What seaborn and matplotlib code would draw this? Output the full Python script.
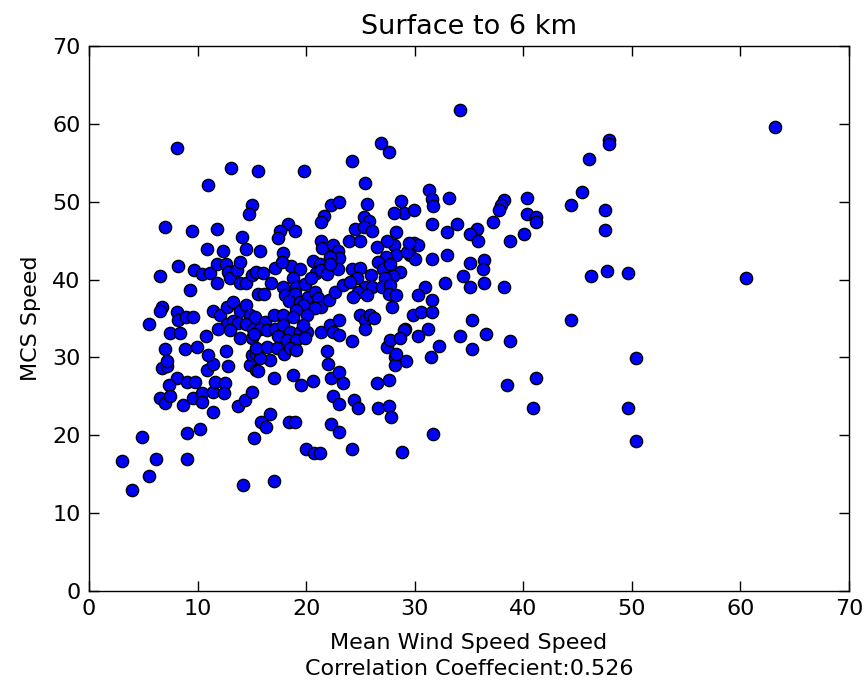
import matplotlib
matplotlib.use("Agg")
import matplotlib.pyplot as plt
import seaborn as sns
import pandas as pd

# Mean wind speed (surface to 6 km) for each MCS case
wind_speed = [
    3.0, 4.0, 4.85, 5.55, 6.2, 9.05, 9.0, 10.2, 14.15, 11.45,
    6.7, 7.2, 8.1, 9.05, 9.8, 7.4, 6.5, 7.0, 7.5, 8.7,
    9.55, 10.4, 10.4, 11.45, 11.6, 12.5, 12.4, 10.9, 11.45, 11.0,
    12.8, 14.8, 15.4, 15.0, 13.75, 14.4, 15.0, 15.8, 15.2, 16.7,
    15.6, 17.0, 18.8, 19.5, 20.6, 22.0, 22.3, 23.0, 23.4, 22.5,
    23.0, 24.4, 24.8, 26.5, 27.6, 26.6, 27.6, 27.8, 28.2, 29.2,
    28.2, 16.7, 16.3, 18.4, 19.0, 22.3, 23.0, 20.0, 20.7, 21.3,
    24.2, 28.8, 17.0, 31.5, 38.5, 41.2, 40.9, 31.7,
    63.2, 47.9, 47.9, 46.05, 45.4, 44.4, 47.5, 47.5, 46.2, 47.7,
    49.6, 60.5, 44.4, 50.4, 49.6, 50.4,
    34.2, 31.3, 31.6, 31.7, 33.2, 28.7, 29.0, 29.9, 31.6, 33.9,
    33.0, 35.7, 35.1, 37.2, 38.2, 37.9, 37.8, 40.3, 40.3, 41.2,
    41.2, 40.1, 35.8, 38.8, 29.9, 30.3, 29.6, 30.0, 31.6, 33.0,
    35.1, 36.4, 36.3, 36.4, 34.4, 35.1, 38.2, 32.8, 28.6, 30.9,
    30.3, 31.6, 29.8, 30.6, 31.6, 35.3, 29.1, 31.2, 30.3, 34.2,
    36.6, 38.8, 35.3, 32.2,
    26.9, 27.6, 24.2, 15.6, 19.8, 25.4, 22.3, 23.0, 25.6, 21.6,
    21.4, 18.3, 17.6, 19.0, 25.3, 25.8, 28.1, 28.3,
    8.1, 13.05, 11.0, 15.0, 14.7, 7.0, 9.46, 11.76, 14.1,
    14.5, 10.9, 12.3, 8.2, 6.5, 9.67, 10.4, 11.1, 11.8, 11.8,
    12.6, 12.8, 13.0, 13.6, 13.9, 13.9, 14.5, 15.0, 15.4, 9.3,
    15.6, 6.7, 6.5, 5.55, 8.1, 8.2, 8.9, 9.55, 7.5, 8.4,
    10.8, 7.0, 8.85, 9.9, 12.6, 11.45, 12.07, 12.7, 13.3, 13.9,
    14.5, 14.8, 12.7, 13.3, 13.75, 14.5, 15.1, 11.9, 13.0, 15.3,
    13.9, 15.0, 15.4, 7.2, 15.75,
    17.4, 24.5, 25.3, 26.1, 28.1, 27.4, 26.5, 28.3, 27.35, 26.6,
    23.9, 25.0, 21.4, 21.5, 22.5, 22.9, 23.0, 22.2, 15.75, 17.9,
    17.1, 18.6, 19.4, 17.8, 20.6, 21.3, 20.9, 21.4, 16.0, 16.8,
    16.1, 17.9, 18.8, 19.1, 19.9, 20.4, 18.05, 19.0, 18.4, 19.4,
    20.2, 19.7, 20.8, 21.1, 21.4, 22.1, 20.8, 20.1, 19.1, 22.7,
    23.4, 22.9, 21.9, 22.2, 24.2, 25.0, 24.7, 24.0, 26.0, 25.4,
    24.8, 24.3, 26.1, 25.6, 27.1, 27.7, 28.0, 27.3, 27.0, 27.7,
    27.6, 28.3, 27.9, 29.3, 29.5,
    16.2, 15.75, 15.2, 16.4, 17.0, 17.9, 18.8, 17.1, 17.9, 18.5,
    19.4, 20.05, 19.7, 17.4, 18.2, 19.1, 19.9, 21.4, 22.2, 23.0,
    22.5, 23.0, 25.0, 25.4, 25.9, 25.4, 26.25, 24.2, 15.4, 16.4,
    17.3, 18.0, 18.5, 19.1, 21.9, 27.4, 27.7, 28.3, 29.0, 28.6,
]

# MCS propagation speed for the same cases
mcs_speed = [
    16.7, 13.0, 19.8, 14.8, 17.0, 17.0, 20.3, 20.8, 13.6, 23.0,
    28.6, 28.9, 27.4, 26.8, 26.8, 26.4, 24.8, 24.1, 25.0, 23.9,
    24.8, 25.4, 24.3, 25.6, 26.9, 26.7, 25.4, 28.4, 29.2, 30.3,
    28.9, 29.0, 28.4, 30.3, 23.7, 24.5, 25.5, 21.7, 19.6, 29.7,
    28.3, 27.4, 27.7, 26.4, 27.0, 29.2, 27.3, 28.1, 26.7, 25.1,
    24.0, 24.5, 23.5, 26.7, 27.1, 23.5, 23.7, 22.3, 30.0, 29.5,
    29.0, 22.7, 21.0, 21.7, 21.7, 21.4, 20.4, 18.3, 17.7, 17.7,
    18.2, 17.9, 14.1, 30.0, 26.4, 27.3, 23.5, 20.1,
    59.6, 57.9, 57.4, 55.5, 51.2, 49.6, 48.9, 46.4, 40.5, 41.1,
    40.8, 40.2, 34.8, 29.9, 23.5, 19.2,
    61.8, 51.5, 50.4, 49.4, 50.5, 50.1, 48.6, 48.9, 47.2, 47.2,
    46.1, 46.5, 45.9, 47.4, 50.2, 49.6, 48.9, 50.5, 48.4, 48.1,
    47.4, 45.9, 44.9, 45.0, 44.7, 44.5, 43.2, 42.6, 42.6, 43.2,
    42.1, 42.5, 41.4, 39.5, 40.5, 39.0, 39.0, 39.5, 41.0, 39.0,
    38.0, 37.4, 35.5, 35.8, 35.8, 34.8, 33.7, 33.7, 32.7, 32.7,
    33.0, 32.1, 31.1, 31.5,
    57.5, 56.4, 55.2, 53.9, 53.9, 52.4, 49.6, 49.9, 49.7, 48.2,
    47.4, 47.2, 46.2, 46.2, 48.1, 47.5, 48.5, 46.1,
    56.9, 54.3, 52.1, 49.6, 48.4, 46.8, 46.2, 46.5, 45.5,
    43.9, 43.9, 43.7, 41.8, 40.5, 41.2, 40.7, 40.8, 42.0, 39.5,
    42.0, 41.0, 40.2, 41.2, 42.3, 39.5, 39.5, 40.6, 41.0, 38.7,
    38.2, 36.5, 36.0, 34.3, 35.8, 34.8, 35.2, 35.2, 33.1, 33.1,
    32.8, 31.1, 31.1, 31.4, 30.8, 36.0, 35.4, 36.5, 37.1, 35.9,
    36.7, 35.4, 34.3, 34.7, 34.4, 34.3, 33.7, 33.7, 33.5, 35.2,
    32.5, 32.5, 30.5, 29.5, 29.9,
    45.4, 46.5, 46.8, 46.2, 44.4, 44.9, 44.2, 43.2, 42.9, 42.3,
    45.0, 45.0, 44.9, 44.1, 44.4, 43.7, 42.8, 42.9, 43.7, 43.4,
    41.5, 41.8, 41.4, 42.3, 42.4, 42.0, 40.9, 41.2, 40.8, 39.6,
    38.2, 39.1, 40.2, 39.1, 39.4, 40.2, 38.0, 38.2, 37.2, 37.1,
    37.8, 36.7, 38.4, 37.6, 36.5, 37.4, 36.3, 35.5, 36.1, 38.4,
    39.3, 41.4, 40.7, 42.0, 41.4, 41.5, 40.2, 39.7, 40.6, 39.1,
    38.4, 37.8, 39.1, 38.0, 41.4, 42.0, 40.4, 40.2, 39.1, 39.3,
    38.1, 38.0, 36.5, 43.6, 44.7,
    34.6, 33.7, 33.0, 33.5, 35.4, 35.4, 35.2, 33.7, 34.2, 33.3,
    33.3, 33.3, 34.2, 32.7, 32.2, 32.2, 32.5, 33.3, 34.2, 34.8,
    33.3, 32.9, 35.4, 34.8, 35.4, 33.7, 35.1, 32.1, 31.2, 31.4,
    31.2, 30.5, 31.2, 31.0, 30.8, 31.4, 32.2, 30.5, 33.5, 32.5,
]

axis_ticks = [0, 10, 20, 30, 40, 50, 60, 70]
correlation = 0.526

sns.set_style("ticks", {
    "xtick.direction": "in",
    "ytick.direction": "in",
    "xtick.top": True,
    "ytick.right": True,
    "axes.edgecolor": "black",
    "axes.labelcolor": "black",
    "text.color": "black",
    "xtick.color": "black",
    "ytick.color": "black",
})
plt.rcParams["font.family"] = ["DejaVu Sans"]
plt.rcParams["xtick.major.size"] = 7
plt.rcParams["ytick.major.size"] = 7

df = pd.DataFrame({"wind": wind_speed, "mcs": mcs_speed})

fig = plt.figure(figsize=(8.66, 6.96), dpi=100)
ax = fig.add_axes([0.1028, 0.1509, 0.8776, 0.7830])

sns.scatterplot(data=df, x="wind", y="mcs", ax=ax, color="#0000ff",
                edgecolor="black", linewidth=1.0, s=78, legend=False)

ax.set_xlim(0, 70)
ax.set_ylim(0, 70)
ax.set_xticks(axis_ticks)
ax.set_yticks(axis_ticks)
ax.tick_params(labelsize=16, colors="black", width=1, pad=6)
for side in ax.spines.values():
    side.set_linewidth(1.0)

ax.set_title("Surface to 6 km", fontsize=19.5, pad=9, color="black")
ax.set_xlabel("Mean Wind Speed Speed\nCorrelation Coeffecient:{:.3f}".format(correlation),
              fontsize=16, labelpad=10, linespacing=1.35, color="black")
ax.set_ylabel("MCS Speed", fontsize=16, labelpad=8, color="black")

fig.savefig("out.png", dpi=100)
